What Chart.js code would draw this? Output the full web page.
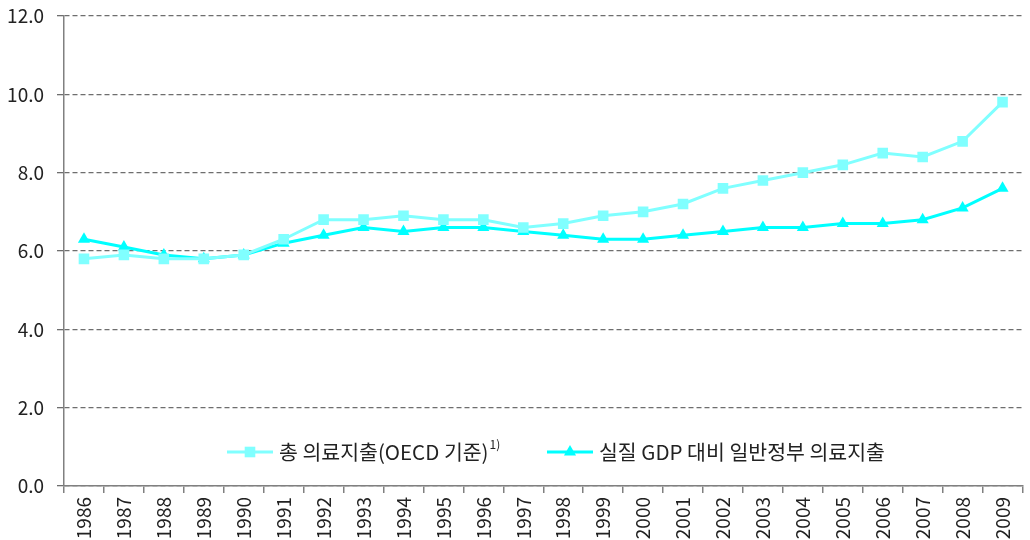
<!DOCTYPE html>
<html><head><meta charset="utf-8">
<script src="https://cdn.jsdelivr.net/npm/chart.js@4/dist/chart.umd.min.js"></script>
<style>html,body{margin:0;padding:0;background:#fff}#wrap{width:1030px;height:540px}</style>
</head><body><div id="wrap"><canvas id="c" width="1030" height="540"></canvas></div>
<script>
const years = ['1986','1987','1988','1989','1990','1991','1992','1993','1994','1995','1996','1997','1998','1999','2000','2001','2002','2003','2004','2005','2006','2007','2008','2009'];
const totalHealth = [5.8,5.9,5.8,5.8,5.9,6.3,6.8,6.8,6.9,6.8,6.8,6.6,6.7,6.9,7.0,7.2,7.6,7.8,8.0,8.2,8.5,8.4,8.8,9.8];
const govHealth = [6.3,6.1,5.9,5.8,5.9,6.2,6.4,6.6,6.5,6.6,6.6,6.5,6.4,6.3,6.3,6.4,6.5,6.6,6.6,6.7,6.7,6.8,7.1,7.6];
const seriesLabels = ['총 의료지출(OECD 기준)', '실질 GDP 대비 일반정부 의료지출'];
const superscript = '1)';
const FONT = "'Noto Sans CJK KR','Noto Sans',sans-serif";

const legendPlugin = {
  id: 'innerLegend',
  afterDraw(chart) {
    const ctx = chart.ctx;
    const items = [
      {x: 227, ds: chart.data.datasets[0], sup: superscript},
      {x: 547, ds: chart.data.datasets[1], sup: null}
    ];
    const y = 452;
    ctx.save();
    items.forEach(it => {
      const len = 46, cx = it.x + len / 2;
      ctx.strokeStyle = it.ds.borderColor;
      ctx.lineWidth = 3;
      ctx.beginPath(); ctx.moveTo(it.x, y); ctx.lineTo(it.x + len, y); ctx.stroke();
      ctx.fillStyle = it.ds.pointBackgroundColor;
      const r = it.ds.pointRadius;
      ctx.beginPath();
      if (it.ds.pointStyle === 'rect') {
        const s = Math.SQRT1_2 * r; ctx.rect(cx - s, y - s, 2*s, 2*s);
      } else {
        ctx.moveTo(cx, y - r);
        ctx.lineTo(cx + r*0.866, y + r*0.5);
        ctx.lineTo(cx - r*0.866, y + r*0.5);
        ctx.closePath();
      }
      ctx.fill();
      ctx.fillStyle = '#222';
      ctx.font = '20.5px ' + FONT;
      ctx.textBaseline = 'middle';
      ctx.textAlign = 'left';
      ctx.fillText(it.ds.label, it.x + 52, y);
      if (it.sup) {
        const w = ctx.measureText(it.ds.label).width;
        ctx.font = '12px ' + FONT;
        ctx.fillText(it.sup, it.x + 53 + w, y - 8);
      }
    });
    ctx.restore();
  }
};

new Chart(document.getElementById('c'), {
  type: 'line',
  data: {
    labels: years,
    datasets: [
      {label: seriesLabels[0], data: totalHealth, borderColor: '#80FFFF', backgroundColor: '#80FFFF',
       pointBackgroundColor: '#80FFFF', pointBorderColor: '#80FFFF', pointStyle: 'rect', pointRadius: 7.5,
       pointBorderWidth: 0, borderWidth: 3, tension: 0},
      {label: seriesLabels[1], data: govHealth, borderColor: '#00FFFF', backgroundColor: '#00FFFF',
       pointBackgroundColor: '#00FFFF', pointBorderColor: '#00FFFF', pointStyle: 'triangle', pointRadius: 7,
       pointBorderWidth: 0, borderWidth: 3, tension: 0}
    ]
  },
  options: {
    responsive: false,
    animation: false,
    layout: {padding: {top: 16, right: 2, left: 0, bottom: 0}},
    plugins: {legend: {display: false}, tooltip: {enabled: false}},
    scales: {
      x: {
        offset: true,
        grid: {offset: true, drawOnChartArea: false, tickLength: 7, color: '#808080', lineWidth: 1.5},
        border: {color: '#808080', width: 1.5},
        ticks: {minRotation: 90, maxRotation: 90, color: '#222', font: {family: FONT, size: 19}, padding: 4},
        afterFit: s => { s.height = 54; s.paddingLeft = 0; s.paddingRight = 0; s.paddingTop = 0; s.paddingBottom = 0; }
      },
      y: {
        min: 0, max: 12,
        grid: {color: '#6e6e6e', lineWidth: 1.3, tickLength: 7, drawTicks: true},
        border: {color: '#808080', width: 1.5, dash: [5,3]},
        ticks: {stepSize: 2, color: '#222', font: {family: FONT, size: 19}, padding: 13,
                callback: v => v.toFixed(1)},
        afterFit: s => { s.width = 64; s.paddingTop = 0; s.paddingBottom = 0; }
      }
    }
  },
  plugins: [legendPlugin]
});
</script></body></html>
